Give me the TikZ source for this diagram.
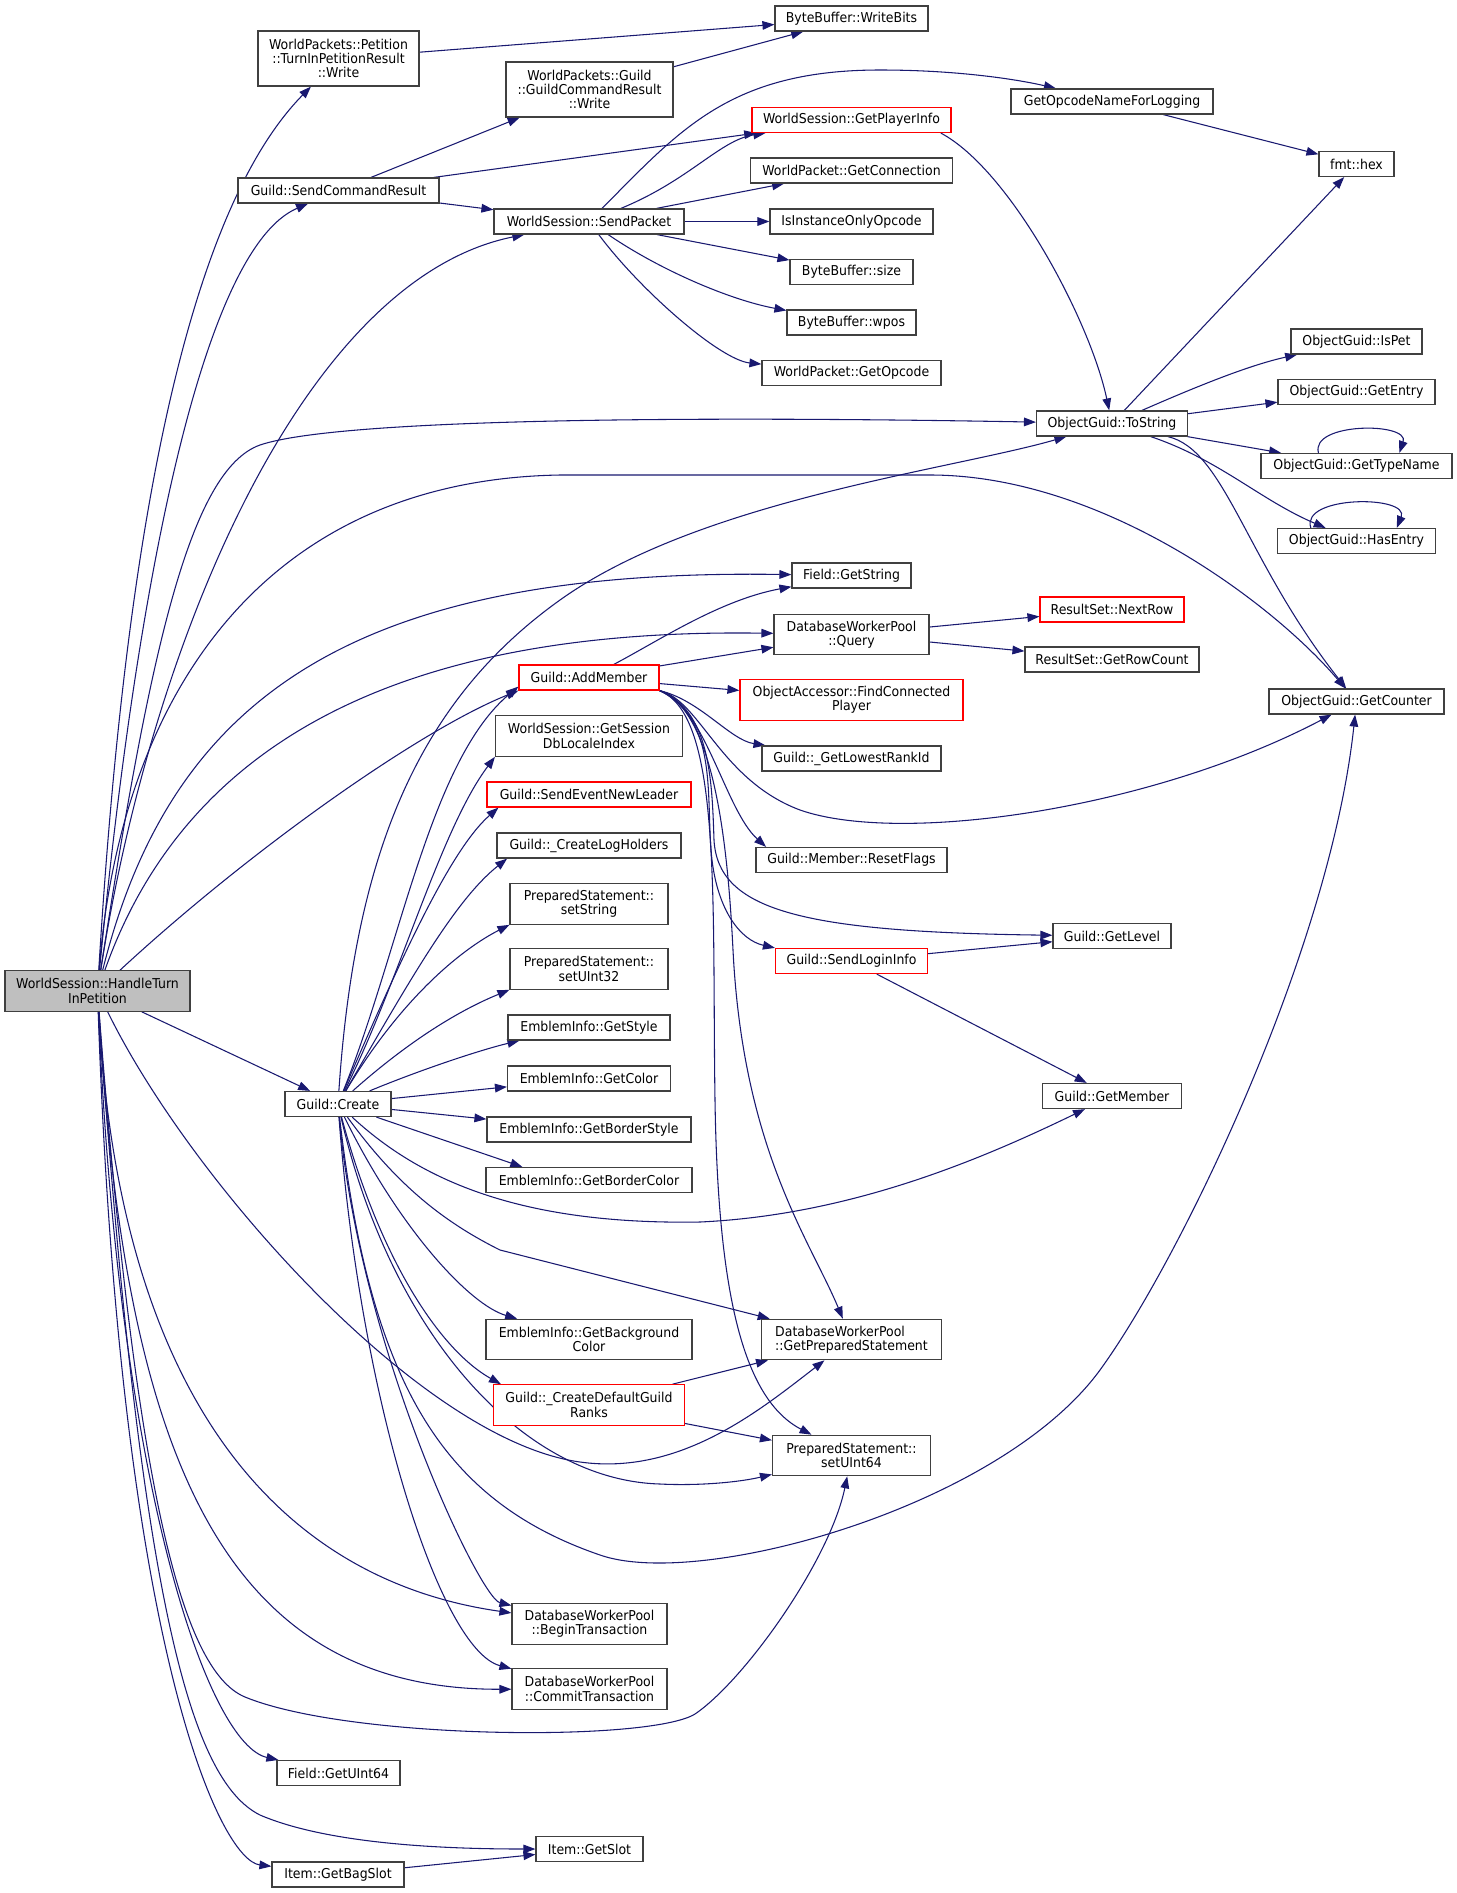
\documentclass[tikz,border=0pt]{standalone}
\usepackage{fontspec}
\setmainfont{DejaVu Sans}[FakeStretch=0.92]
\usepackage{tikz}
\usetikzlibrary{arrows.meta,positioning,backgrounds}
\definecolor{edgeBlue}{HTML}{191970}
\definecolor{boxGrey}{HTML}{404040}
\definecolor{truncRed}{HTML}{FF0000}
\definecolor{rootGrey}{HTML}{BFBFBF}

\begin{document}
\begin{tikzpicture}[
        x=0.75pt, y=-0.75pt,
        fn/.style={rectangle, draw=boxGrey, fill=white, line width=0.85pt, inner sep=1pt, minimum height=18.8pt, align=center, font=\fontsize{10.2pt}{10.8pt}\selectfont},
        wd/.style={minimum width=#1*0.75pt},
        two/.style={minimum height=30.4pt},
        three/.style={minimum height=41.3pt},
        trunc/.style={fn, draw=truncRed},
        root/.style={fn, fill=rootGrey},
        call/.style={-{Triangle[length=9pt,width=6.5pt]}, draw=edgeBlue, line width=0.8pt}
    ]
        \useasboundingbox (0,0) rectangle (1457,1893);

        % Caller
        \node[root, wd=185, two] (handle) at (97.5,991) {WorldSession::HandleTurn\\InPetition};

        % Column 1
        \node[fn, wd=161, three] (tprWrite) at (338.5,58.5) {WorldPackets::Petition\\::TurnInPetitionResult\\::Write};
        \node[fn, wd=201] (sendCmd) at (338.5,190.5) {Guild::SendCommandResult};
        \node[fn, wd=106] (create) at (338,1104) {Guild::Create};
        \node[fn, wd=123] (getUInt64) at (338.5,1773) {Field::GetUInt64};
        \node[fn, wd=132] (bagSlot) at (338,1874.5) {Item::GetBagSlot};

        % Column 2
        \node[fn, wd=167, three] (gcrWrite) at (589.5,89.5) {WorldPackets::Guild\\::GuildCommandResult\\::Write};
        \node[fn, wd=190] (sendPkt) at (589,221.5) {WorldSession::SendPacket};
        \node[trunc, wd=140] (addMember) at (589,677.5) {Guild::AddMember};
        \node[fn, wd=187, two] (localeIdx) at (589,736) {WorldSession::GetSession\\DbLocaleIndex};
        \node[trunc, wd=204] (newLeader) at (589,794.5) {Guild::SendEventNewLeader};
        \node[fn, wd=184] (logHolders) at (589,845.5) {Guild::\_CreateLogHolders};
        \node[fn, wd=158, two] (setString) at (589,904) {PreparedStatement::\\setString};
        \node[fn, wd=158, two] (setUInt32) at (589,969) {PreparedStatement::\\setUInt32};
        \node[fn, wd=162] (getStyle) at (589,1027.5) {EmblemInfo::GetStyle};
        \node[fn, wd=163] (getColor) at (589,1078.5) {EmblemInfo::GetColor};
        \node[fn, wd=204] (borderStyle) at (589,1129.5) {EmblemInfo::GetBorderStyle};
        \node[fn, wd=206] (borderColor) at (589,1180) {EmblemInfo::GetBorderColor};
        \node[fn, wd=206, two] (bgColor) at (589,1339.5) {EmblemInfo::GetBackground\\Color};
        \node[trunc, wd=191, two] (defRanks) at (589,1405) {Guild::\_CreateDefaultGuild\\Ranks};
        \node[fn, wd=155, two] (beginTx) at (589.5,1624) {DatabaseWorkerPool\\::BeginTransaction};
        \node[fn, wd=155, two] (commitTx) at (589.5,1689) {DatabaseWorkerPool\\::CommitTransaction};
        \node[fn, wd=107] (getSlot) at (589.5,1849) {Item::GetSlot};

        % Column 3
        \node[fn, wd=153] (writeBits) at (851.5,18.5) {ByteBuffer::WriteBits};
        \node[trunc, wd=199] (playerInfo) at (851.5,120) {WorldSession::GetPlayerInfo};
        \node[fn, wd=202] (getConn) at (851.5,170.5) {WorldPacket::GetConnection};
        \node[fn, wd=163] (instOnly) at (851.5,221.5) {IsInstanceOnlyOpcode};
        \node[fn, wd=123] (bbSize) at (851.5,272) {ByteBuffer::size};
        \node[fn, wd=129] (bbWpos) at (851.5,322.5) {ByteBuffer::wpos};
        \node[fn, wd=179] (getOpcode) at (851.5,373) {WorldPacket::GetOpcode};
        \node[fn, wd=119] (getString) at (851.5,575.5) {Field::GetString};
        \node[fn, wd=155, two] (query) at (851.5,634.5) {DatabaseWorkerPool\\::Query};
        \node[trunc, wd=223, two] (findPlayer) at (851.5,700) {ObjectAccessor::FindConnected\\Player};
        \node[fn, wd=179] (lowestRank) at (851.5,758.5) {Guild::\_GetLowestRankId};
        \node[fn, wd=191] (resetFlags) at (851.5,860) {Guild::Member::ResetFlags};
        \node[trunc, wd=152] (loginInfo) at (851.5,961) {Guild::SendLoginInfo};
        \node[fn, wd=180, two, align=left] (prepStmt) at (851.5,1339.5) {DatabaseWorkerPool\\::GetPreparedStatement};
        \node[fn, wd=158, two] (setUInt64) at (851.5,1455.5) {PreparedStatement::\\setUInt64};

        % Column 4
        \node[fn, wd=202] (opName) at (1112,101.5) {GetOpcodeNameForLogging};
        \node[fn, wd=151] (toString) at (1112,423.5) {ObjectGuid::ToString};
        \node[trunc, wd=144] (nextRow) at (1112,609.5) {ResultSet::NextRow};
        \node[fn, wd=174] (rowCount) at (1112,659.5) {ResultSet::GetRowCount};
        \node[fn, wd=118] (getLevel) at (1112,936) {Guild::GetLevel};
        \node[fn, wd=139] (getMember) at (1112,1096) {Guild::GetMember};

        % Column 5
        \node[fn, wd=75] (hex) at (1356.5,164) {fmt::hex};
        \node[fn, wd=131] (isPet) at (1356.5,341.5) {ObjectGuid::IsPet};
        \node[fn, wd=157] (getEntry) at (1356.5,392) {ObjectGuid::GetEntry};
        \node[fn, wd=191] (typeName) at (1356.5,466) {ObjectGuid::GetTypeName};
        \node[fn, wd=158] (hasEntry) at (1356.5,541) {ObjectGuid::HasEntry};
        \node[fn, wd=175] (getCounter) at (1356.5,701.5) {ObjectGuid::GetCounter};

        \begin{scope}[on background layer]
        % Calls from HandleTurnInPetition
        \draw[call] (handle) .. controls (120,620) and (170,230) .. (tprWrite);
        \draw[call] (handle) .. controls (135,600) and (200,250) .. (sendCmd);
        \draw[call] (handle) .. controls (150,650) and (300,280) .. (sendPkt);
        \draw[call] (handle) .. controls (150,650) and (190,470) .. (260,445) .. controls (340,418) and (700,416) .. (toString);
        \draw[call] (handle) .. controls (120,700) and (260,480) .. (560,475) -- (930,475) .. controls (1100,475) and (1270,600) .. (getCounter);
        \draw[call] (handle) .. controls (170,700) and (350,568) .. (getString);
        \draw[call] (handle) .. controls (190,730) and (420,628) .. (query);
        \draw[call] (handle) .. controls (250,850) and (420,730) .. (addMember.south west);
        \draw[call] (handle) -- (create);
        \draw[call] (handle) .. controls (190,1180) and (420,1440) .. (580,1462) .. controls (680,1476) and (760,1410) .. (prepStmt);
        \draw[call] (handle) .. controls (120,1400) and (280,1580) .. (beginTx);
        \draw[call] (handle) .. controls (125,1450) and (220,1690) .. (commitTx);
        \draw[call] (handle) .. controls (135,1480) and (180,1670) .. (245,1697) .. controls (350,1740) and (650,1742) .. (695,1714) .. controls (745,1680) and (830,1560) .. (setUInt64);
        \draw[call] (handle) .. controls (120,1500) and (210,1745) .. (getUInt64);
        \draw[call] (handle) .. controls (140,1600) and (190,1780) .. (260,1815) .. controls (330,1845) and (450,1849) .. (getSlot);
        \draw[call] (handle) .. controls (120,1650) and (220,1860) .. (bagSlot);

        % SendCommandResult and the packet writers
        \draw[call] (sendCmd) -- (gcrWrite);
        \draw[call] (sendCmd) -- (playerInfo);
        \draw[call] (sendCmd) -- (sendPkt);
        \draw[call] (tprWrite) -- (writeBits);
        \draw[call] (gcrWrite) -- (writeBits);

        % SendPacket
        \draw[call] (sendPkt) .. controls (680,130) and (730,70) .. (880,70) .. controls (960,70) and (1020,80) .. (opName);
        \draw[call] (sendPkt) .. controls (690,180) and (720,140) .. (playerInfo);
        \draw[call] (sendPkt) -- (getConn);
        \draw[call] (sendPkt) -- (instOnly);
        \draw[call] (sendPkt) -- (bbSize);
        \draw[call] (sendPkt) .. controls (660,270) and (730,300) .. (bbWpos);
        \draw[call] (sendPkt) .. controls (640,290) and (720,360) .. (getOpcode);
        \draw[call] ([xshift=-8pt]playerInfo.south east) .. controls (1010,170) and (1090,320) .. (toString);
        \draw[call] (opName) -- (hex);

        % ToString
        \draw[call] (toString) -- (hex);
        \draw[call] (toString) .. controls (1200,385) and (1250,365) .. (isPet);
        \draw[call] (toString) -- (getEntry);
        \draw[call] (toString) -- (typeName);
        \draw[call] (toString) .. controls (1220,460) and (1260,500) .. (hasEntry);
        \draw[call] (toString) .. controls (1225,450) and (1245,560) .. (getCounter);
        \draw[call] (typeName.161) .. controls (1310,422) and (1410,422) .. (typeName.17);
        \draw[call] (hasEntry.164) .. controls (1300,495) and (1410,495) .. (hasEntry.18);

        % Query
        \draw[call] (query) -- (nextRow);
        \draw[call] (query) -- (rowCount);

        % AddMember
        \draw[call] (addMember) .. controls (660,640) and (720,600) .. (getString);
        \draw[call] (addMember) -- (query);
        \draw[call] (addMember) -- (findPlayer);
        \draw[call] (addMember.south east) .. controls (700,700) and (730,740) .. (lowestRank);
        \draw[call] (addMember.south east) .. controls (700,700) and (720,780) .. (800,810) .. controls (900,845) and (1150,810) .. (getCounter);
        \draw[call] (addMember.south east) .. controls (705,705) and (725,810) .. ([xshift=8pt]resetFlags.north west);
        \draw[call] (addMember.south east) .. controls (710,710) and (712,780) .. (714,840) .. controls (718,910) and (800,932) .. (getLevel);
        \draw[call] (addMember.south east) .. controls (720,720) and (705,800) .. (712,860) .. controls (718,910) and (740,940) .. (loginInfo.north west);
        \draw[call] (addMember.south east) .. controls (715,710) and (728,850) .. (733,950) .. controls (743,1150) and (810,1240) .. (prepStmt);
        \draw[call] (addMember.south east) .. controls (722,715) and (712,900) .. (715,1100) .. controls (718,1300) and (745,1400) .. (setUInt64);

        % Guild::Create
        \draw[call] (create) .. controls (355,850) and (420,700) .. (560,600) .. controls (700,500) and (950,470) .. (toString);
        \draw[call] (create) .. controls (400,950) and (430,760) .. ([yshift=3pt]addMember.south west);
        \draw[call] (create) .. controls (400,980) and (440,830) .. (localeIdx.south west);
        \draw[call] (create) .. controls (400,960) and (450,850) .. ([xshift=9pt]newLeader.south west);
        \draw[call] (create) .. controls (410,980) and (455,900) .. ([xshift=8pt]logHolders.south west);
        \draw[call] (create) .. controls (400,1000) and (460,950) .. (setString.south west);
        \draw[call] (create) .. controls (410,1040) and (460,1010) .. (setUInt32.south west);
        \draw[call] (create) .. controls (420,1070) and (480,1050) .. ([xshift=9pt]getStyle.south west);
        \draw[call] (create) -- (getColor);
        \draw[call] (create) -- (borderStyle);
        \draw[call] (create) -- ([xshift=-50pt]borderColor.north);
        \draw[call] (create) .. controls (420,1180) and (520,1225) .. (700,1222) .. controls (850,1215) and (980,1160) .. (getMember);
        \draw[call] (create) .. controls (400,1190) and (450,1225) .. (500,1250) -- (prepStmt);
        \draw[call] (create) .. controls (400,1230) and (470,1305) .. (bgColor);
        \draw[call] (create) .. controls (380,1260) and (440,1350) .. ([xshift=6pt]defRanks.north west);
        \draw[call] (create) .. controls (360,1350) and (480,1598) .. (beginTx);
        \draw[call] (create) .. controls (360,1400) and (440,1650) .. (commitTx);
        \draw[call] (create) .. controls (390,1330) and (520,1480) .. (660,1484) .. controls (700,1486) and (740,1482) .. (setUInt64);
        \draw[call] (create) .. controls (370,1380) and (440,1500) .. (600,1555) .. controls (700,1590) and (1000,1507) .. (1100,1370) .. controls (1180,1260) and (1330,950) .. (getCounter);

        % Remaining calls
        \draw[call] (loginInfo) -- (getLevel);
        \draw[call] (loginInfo) -- (getMember);
        \draw[call] (defRanks) -- (prepStmt);
        \draw[call] (defRanks) -- (setUInt64);
        \draw[call] (bagSlot) -- (getSlot);
        \end{scope}

    \end{tikzpicture}
\end{document}
